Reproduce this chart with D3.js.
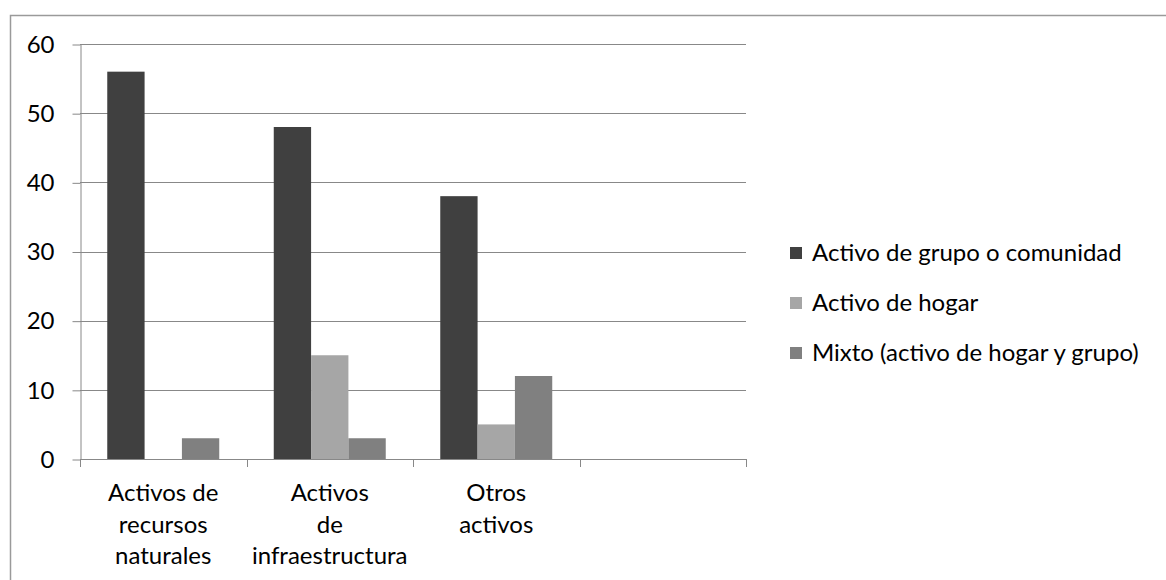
<!DOCTYPE html>
<html>
<head>
<meta charset="utf-8">
<script src="https://cdn.jsdelivr.net/npm/d3@7"></script>
<style>
  html, body { margin: 0; padding: 0; background: #fff; }
  svg { display: block; }
  text { font-family: Lato, "Open Sans", sans-serif; fill: #000; }
</style>
</head>
<body>
<svg id="chart" width="1166" height="580"></svg>
<script>
// ---- data ----
const categories = ["Activos de recursos naturales", "Activos de infraestructura", "Otros activos", ""];
const categoryLabelLines = [["Activos de", "recursos", "naturales"], ["Activos", "de", "infraestructura"], ["Otros", "activos"], []];
const seriesNames = ["Activo de grupo o comunidad", "Activo de hogar", "Mixto (activo de hogar y grupo)"];
const grupoValues = [56, 48, 38, null];
const hogarValues = [0, 15, 5, null];
const mixtoValues = [3, 3, 12, null];
const yTicks = [0, 10, 20, 30, 40, 50, 60];
const seriesColors = ["#404040", "#a6a6a6", "#808080"];

const seriesValues = [grupoValues, hogarValues, mixtoValues];

// ---- layout ----
const svg = d3.select("#chart");
const plot = { left: 80, right: 746, top: 44, bottom: 459 };
const fontSize = 24;

// outer chart border (only top & left visible in frame)
svg.append("path")
  .attr("d", "M10.5,1000 L10.5,15.5 L1200,15.5")
  .attr("fill", "none").attr("stroke", "#9a9a9a").attr("stroke-width", 1.5);

const y = d3.scaleLinear().domain([0, 60]).range([plot.bottom, plot.top]);
const x0 = d3.scaleBand().domain(categories.map((c, i) => i)).range([plot.left, plot.right]).padding(0);
const x1 = d3.scaleBand().domain([0, 1, 2]).range([0, x0.bandwidth()]).paddingInner(0).paddingOuter(0.73);

// gridlines
svg.append("g").selectAll("line").data(yTicks.filter(t => t > 0)).join("line")
  .attr("x1", plot.left).attr("x2", plot.right)
  .attr("y1", d => Math.round(y(d)) + 0.5).attr("y2", d => Math.round(y(d)) + 0.5)
  .attr("stroke", "#888888").attr("stroke-width", 1);

// y axis
const yAxis = d3.axisLeft(y).tickValues(yTicks).tickSize(8).tickPadding(18).tickSizeOuter(0);
const gy = svg.append("g").attr("transform", `translate(${plot.left + 0.5},0.5)`).call(yAxis);
gy.select(".domain").attr("stroke", "#888888");
gy.selectAll(".tick line").attr("stroke", "#888888");
gy.selectAll(".tick text").attr("font-size", fontSize).attr("font-family", "Lato, 'Open Sans', sans-serif").attr("fill", "#000");

// bars
const groups = svg.append("g").selectAll("g").data(categories.map((c, i) => i)).join("g")
  .attr("transform", i => `translate(${x0(i)},0)`);
groups.selectAll("rect")
  .data(i => seriesValues.map((vals, s) => ({ s, v: vals[i] })).filter(d => d.v != null && d.v > 0))
  .join("rect")
  .attr("x", d => x1(d.s))
  .attr("width", x1.bandwidth())
  .attr("y", d => y(d.v))
  .attr("height", d => y(0) - y(d.v))
  .attr("fill", d => seriesColors[d.s]);

// x axis
const boundaries = categories.map((c, i) => x0(i)).concat([plot.right]);
const xg = svg.append("g");
xg.append("line").attr("x1", plot.left).attr("x2", plot.right)
  .attr("y1", plot.bottom + 0.5).attr("y2", plot.bottom + 0.5)
  .attr("stroke", "#888888").attr("stroke-width", 1);
xg.selectAll("line.tk").data(boundaries).join("line").attr("class", "tk")
  .attr("x1", d => Math.round(d) + 0.5).attr("x2", d => Math.round(d) + 0.5)
  .attr("y1", plot.bottom).attr("y2", plot.bottom + 8)
  .attr("stroke", "#888888").attr("stroke-width", 1);

const lbl = xg.selectAll("text.cat").data(categories.map((c, i) => i)).join("text").attr("class", "cat")
  .attr("text-anchor", "middle").attr("font-size", fontSize)
  .attr("x", i => x0(i) + x0.bandwidth() / 2);
lbl.selectAll("tspan").data(i => categoryLabelLines[i]).join("tspan")
  .attr("x", function () { return d3.select(this.parentNode).attr("x"); })
  .attr("y", (d, j) => 501 + j * 31.5)
  .text(d => d);

// legend
const legend = svg.append("g").attr("transform", "translate(790,0)");
const lg = legend.selectAll("g").data(seriesNames).join("g")
  .attr("transform", (d, i) => `translate(0,${253 + i * 50})`);
lg.append("rect").attr("x", 0).attr("y", -6).attr("width", 12).attr("height", 12)
  .attr("fill", (d, i) => seriesColors[i]);
lg.append("text").attr("x", 22).attr("dy", "0.35em").attr("font-size", fontSize).text(d => d);
</script>
</body>
</html>
